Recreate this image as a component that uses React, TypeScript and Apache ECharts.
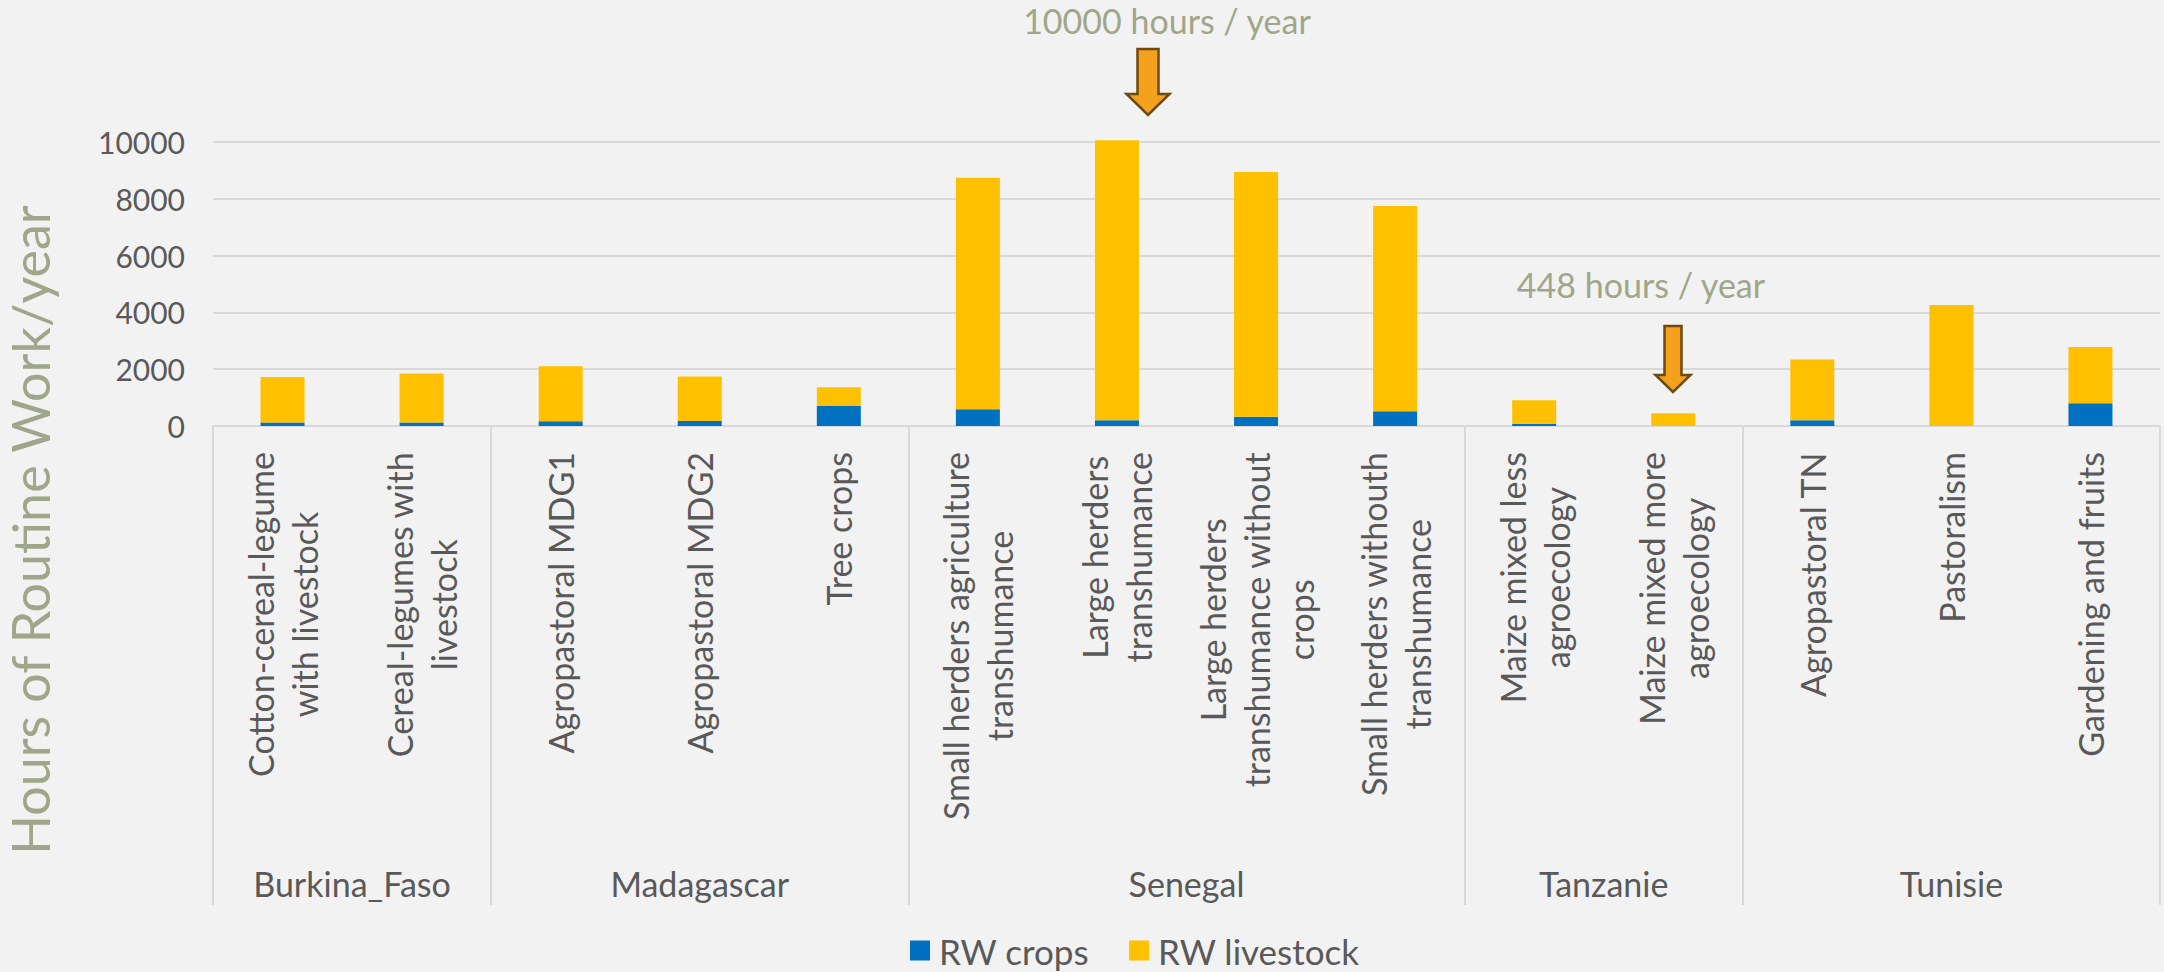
import React, { useEffect, useRef } from 'react';
import * as echarts from 'echarts';

// ---- data ----
const categories = [
  'Cotton-cereal-legume\nwith livestock',
  'Cereal-legumes with\nlivestock',
  'Agropastoral MDG1',
  'Agropastoral MDG2',
  'Tree crops',
  'Small herders agriculture\ntranshumance',
  'Large herders\ntranshumance',
  'Large herders\ntranshumance without\ncrops',
  'Small herders withouth\ntranshumance',
  'Maize mixed less\nagroecology',
  'Maize mixed more\nagroecology',
  'Agropastoral TN',
  'Pastoralism',
  'Gardening and fruits',
];
const groupNames = ['Burkina_Faso', 'Madagascar', 'Senegal', 'Tanzanie', 'Tunisie'];
const groupSizes = [2, 3, 4, 2, 3];
const rwCrops = [120, 120, 165, 176, 706, 588, 200, 329, 517, 83, 0, 201, 0, 805];
const rwLivestock = [1609, 1727, 1941, 1565, 659, 8155, 9860, 8613, 7227, 828, 448, 2142, 4260, 1976];
const seriesNames = ['RW crops', 'RW livestock'];
const yMin = 0;
const yMax = 10000;
const yInterval = 2000;
const yTitle = 'Hours of Routine Work/year';
const annotations = ['10000 hours / year', '448 hours / year'];

const FONT = 'Lato, "Open Sans", sans-serif';
const LABEL = '#595959';
const GRID = '#D9D9D9';
const NOTE = '#A0A68A';

export default function App() {
  const ref = useRef<HTMLDivElement>(null);
  useEffect(() => {
    document.body.style.margin = '0';
    if (!ref.current) return;
    const chart = echarts.init(ref.current, null, { renderer: 'svg' });

    const bounds: number[] = [0];
    groupSizes.forEach((s) => bounds.push(bounds[bounds.length - 1] + s));
    const centers = groupSizes.map((s, i) => bounds[i] + s / 2);

    const arrow = (tipX: number, tipY: number, topY: number, headY: number, shaftHalf: number, headHalf: number) => ({
      type: 'polygon',
      shape: {
        points: [
          [tipX - shaftHalf, topY],
          [tipX + shaftHalf, topY],
          [tipX + shaftHalf, headY],
          [tipX + headHalf, headY],
          [tipX, tipY],
          [tipX - headHalf, headY],
          [tipX - shaftHalf, headY],
        ],
      },
      style: { fill: '#F4A21E', stroke: '#6E4A0E', lineWidth: 2.5 },
      z: 100,
    });

    chart.setOption({
      animation: false,
      backgroundColor: '#F2F2F2',
      grid: { left: 213, right: 4, top: 142, bottom: 546, containLabel: false, outerBoundsMode: 'none' },
      legend: {
        left: 910,
        top: 933,
        icon: 'rect',
        itemWidth: 20,
        itemHeight: 20,
        itemGap: 40,
        padding: 0,
        textStyle: { fontSize: 35, lineHeight: 34, color: LABEL, fontFamily: FONT, padding: [0, 0, 0, 4] },
        data: seriesNames,
      },
      xAxis: [
        {
          type: 'category',
          data: categories,
          position: 'bottom',
          axisLine: { show: true, lineStyle: { color: GRID, width: 2 } },
          axisTick: { show: false },
          axisLabel: {
            interval: 0,
            rotate: 90,
            margin: 26,
            formatter: (v: string) => v.split('\n').map((l) => `{c|${l}}`).join('\n'),
            rich: {
              c: { align: 'center', fontSize: 34, lineHeight: 44, color: LABEL, fontFamily: FONT },
            },
          },
        },
        {
          type: 'value',
          min: 0,
          max: categories.length,
          position: 'bottom',
          axisLine: { show: false },
          splitLine: { show: false },
          axisTick: { show: true, customValues: bounds, length: 479, lineStyle: { color: GRID, width: 2 } },
          axisLabel: {
            customValues: centers,
            margin: 440,
            fontSize: 34,
            color: LABEL,
            fontFamily: FONT,
            formatter: (v: number) => {
              const i = centers.findIndex((c) => Math.abs(c - v) < 1e-6);
              return i >= 0 ? groupNames[i] : '';
            },
          },
        },
      ],
      yAxis: {
        type: 'value',
        min: yMin,
        max: yMax,
        interval: yInterval,
        axisLine: { show: false },
        axisTick: { show: false },
        splitLine: { lineStyle: { color: GRID, width: 2 } },
        axisLabel: { margin: 28, fontSize: 30, color: LABEL, fontFamily: FONT, formatter: (v: number) => String(v) },
      },
      series: [
        {
          name: seriesNames[0],
          type: 'bar',
          stack: 'rw',
          data: rwCrops,
          barWidth: 44,
          clip: false,
          itemStyle: { color: '#0070C0' },
        },
        {
          name: seriesNames[1],
          type: 'bar',
          stack: 'rw',
          data: rwLivestock,
          barWidth: 44,
          clip: false,
          itemStyle: { color: '#FFC000' },
        },
      ],
      graphic: [
        {
          type: 'text',
          x: 30,
          y: 530,
          rotation: Math.PI / 2,
          style: { text: yTitle, fontSize: 52, fill: NOTE, fontFamily: FONT, align: 'center', verticalAlign: 'middle' },
        },
        {
          type: 'text',
          x: 1167,
          y: 20,
          style: { text: annotations[0], fontSize: 34, fill: NOTE, fontFamily: FONT, align: 'center', verticalAlign: 'middle' },
        },
        {
          type: 'text',
          x: 1641,
          y: 284,
          style: { text: annotations[1], fontSize: 34, fill: NOTE, fontFamily: FONT, align: 'center', verticalAlign: 'middle' },
        },
        arrow(1148, 115, 49, 94, 10.5, 21.5),
        arrow(1673, 392, 326, 375, 8.5, 17.5),
      ],
    });
    return () => chart.dispose();
  }, []);
  return <div ref={ref} style={{ width: 2164, height: 972 }} />;
}
